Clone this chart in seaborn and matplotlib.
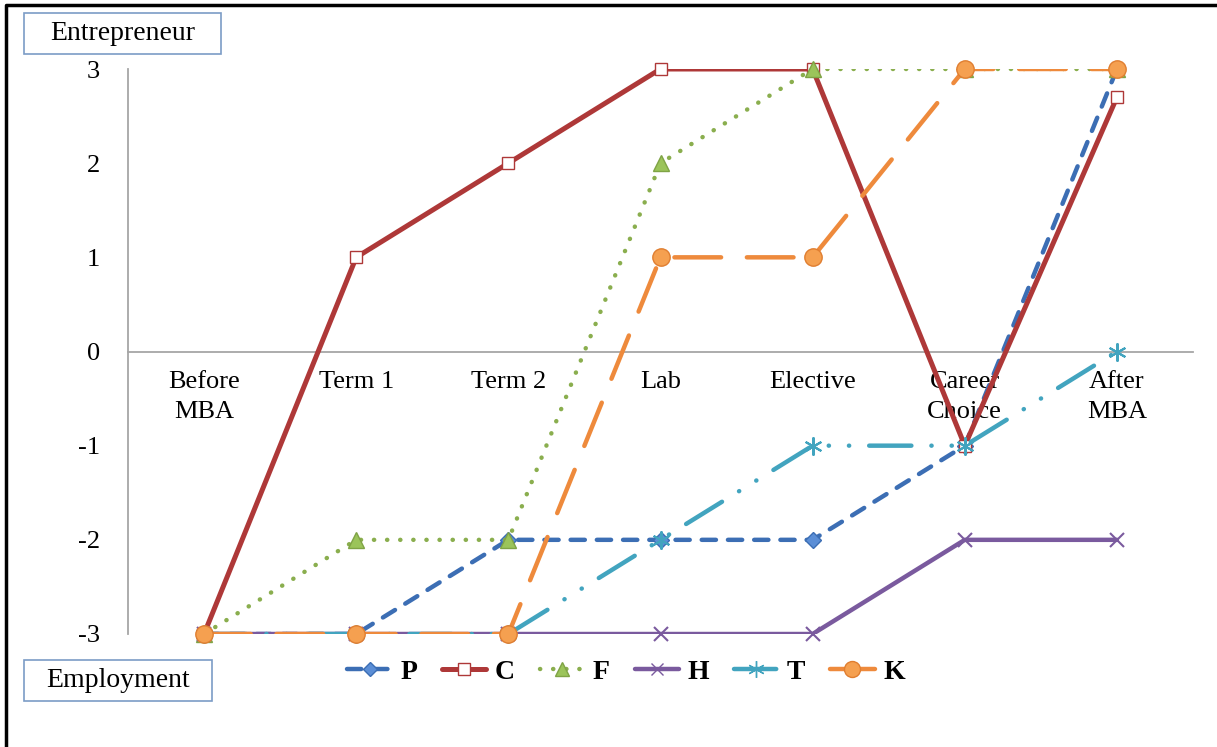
import matplotlib
matplotlib.use('Agg')
import matplotlib.pyplot as plt
from matplotlib.lines import Line2D
from matplotlib.patches import Rectangle
import seaborn as sns
import pandas as pd

# Data
stages = ['Before\nMBA', 'Term 1', 'Term 2', 'Lab', 'Elective', 'Career\nChoice', 'After\nMBA']
people = ['P', 'C', 'F', 'H', 'T', 'K']
p_vals = [-3, -3, -2, -2, -2, -1, 3]
c_vals = [-3, 1, 2, 3, 3, -1, 2.7]
f_vals = [-3, -2, -2, 2, 3, 3, 3]
h_vals = [-3, -3, -3, -3, -3, -2, -2]
t_vals = [-3, -3, -3, -2, -1, -1, 0]
k_vals = [-3, -3, -3, 1, 1, 3, 3]
y_ticks = [-3, -2, -1, 0, 1, 2, 3]
top_label = 'Entrepreneur'
bottom_label = 'Employment'

values = dict(zip(people, [p_vals, c_vals, f_vals, h_vals, t_vals, k_vals]))
rows = []
for name in people:
    for i, v in enumerate(values[name]):
        rows.append({'person': name, 'pos': i, 'score': v})
df = pd.DataFrame(rows)

# line styles (Excel-like)
styles = {
    'P': dict(color='#3C6EB4', marker='D', ms=8, mfc='#5B8ED6', mec='#3C6EB4', lw=3.2, ls=(0, (3.2, 2.7))),
    'C': dict(color='#AE3838', marker='s', ms=9, mfc='white', mec='#AE3838', lw=3.6, ls='-'),
    'F': dict(color='#8AAE4E', marker='^', ms=11, mfc='#9BC45A', mec='#7FA345', lw=3.2, ls=(0, (0.05, 2.9))),
    'H': dict(color='#7A5A9E', marker='x', ms=10, mfc='#7A5A9E', mec='#7A5A9E', lw=3.2, ls='-'),
    'T': dict(color='#42A4BF', marker=(6, 2, 0), ms=13, mfc='#42A4BF', mec='#42A4BF', lw=3.2,
              ls=(0, (9.5, 4.5, 0.05, 4.5, 0.05, 4.5))),
    'K': dict(color='#EE8A3C', marker='o', ms=12.5, mfc='#F5A050', mec='#E07E30', lw=3.2, ls=(0, (10.5, 5.8))),
}

sns.set_theme(style='white')
plt.rcParams['font.family'] = ['Liberation Serif', 'DejaVu Serif']
plt.rcParams['axes.unicode_minus'] = False
plt.rcParams['text.color'] = 'black'
plt.rcParams['xtick.color'] = 'black'
plt.rcParams['ytick.color'] = 'black'

fig = plt.figure(figsize=(12.17, 7.47), dpi=100)
ax = fig.add_axes([128 / 1217, 1 - 634 / 747, 1065 / 1217, 565 / 747])

for z, name in enumerate(people):
    st = styles[name]
    sub = df[df['person'] == name]
    # line, clipped at the axes like the original
    sns.lineplot(data=sub, x='pos', y='score', ax=ax, color=st['color'], linewidth=st['lw'],
                 linestyle=st['ls'], dash_capstyle='round', solid_capstyle='round',
                 legend=False, zorder=3 + z, errorbar=None)
    # markers, not clipped
    sns.lineplot(data=sub, x='pos', y='score', ax=ax, color=st['color'], linestyle='none',
                 marker=st['marker'], markersize=st['ms'], markerfacecolor=st['mfc'],
                 markeredgecolor=st['mec'], markeredgewidth=1.5 if st['marker'] in ('x', (6, 2, 0)) else 1.0,
                 legend=False, zorder=3.5 + z, clip_on=False, errorbar=None)

for side in ['top', 'right']:
    ax.spines[side].set_visible(False)
ax.spines['bottom'].set_position(('data', 0))
for side in ['bottom', 'left']:
    ax.spines[side].set_color('#A6A6A6')
    ax.spines[side].set_linewidth(1.3)
    ax.spines[side].set_zorder(2)

ax.set_xlim(-0.5, len(stages) - 0.5)
ax.set_ylim(min(y_ticks), max(y_ticks))
ax.set_xticks(range(len(stages)))
ax.set_xticklabels(stages)
ax.set_yticks(y_ticks)
ax.set_yticklabels([str(t) for t in y_ticks])
ax.set_xlabel('')
ax.set_ylabel('')
ax.tick_params(axis='x', length=0, pad=14, labelsize=19, labelcolor='black')
ax.tick_params(axis='y', length=0, pad=20, labelsize=19, labelcolor='black')
for lbl in ax.get_xticklabels():
    lbl.set_linespacing(1.45)

# legend
handles = []
for name in people:
    st = styles[name]
    handles.append(Line2D([0], [0], color=st['color'], lw=st['lw'], linestyle=st['ls'],
                          dash_capstyle='round', solid_capstyle='round', marker=st['marker'],
                          markersize=st['ms'] - 1, markerfacecolor=st['mfc'], markeredgecolor=st['mec']))
fig.legend(handles, people, loc='center', bbox_to_anchor=(626 / 1217, 1 - 672 / 747), ncol=6,
           frameon=False, handlelength=1.6, handletextpad=0.3, columnspacing=0.9,
           prop={'family': 'Liberation Serif', 'size': 20, 'weight': 'bold'})

# text boxes
for label, top in [(top_label, 13), (bottom_label, 660)]:
    w = 197 if label == top_label else 188
    fig.add_artist(Rectangle((24 / 1217, 1 - (top + 41) / 747), w / 1217, 41 / 747,
                             transform=fig.transFigure, facecolor='white', edgecolor='#7C9CC6', lw=1.2))
    fig.text((24 + w / 2) / 1217, 1 - (top + 20.5) / 747, label, ha='center', va='center', fontsize=20)

# frame lines (top and left)
fig.add_artist(Line2D([6 / 1217, 6 / 1217, 1], [0, 1 - 5 / 747, 1 - 5 / 747],
                      transform=fig.transFigure, color='black', lw=2.5))

fig.savefig('out.png', dpi=100)
